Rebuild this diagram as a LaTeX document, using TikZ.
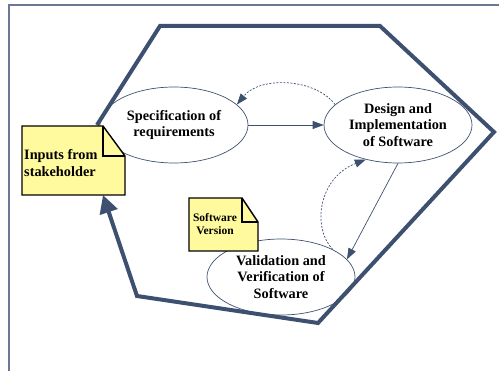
\documentclass[tikz,border=0pt]{standalone}
\usepackage{fontspec}
\setmainfont{Liberation Serif}
\usetikzlibrary{arrows.meta,shapes.geometric}
\definecolor{slate}{RGB}{62,80,112}
\definecolor{framecol}{RGB}{106,120,150}
\definecolor{notefill}{RGB}{255,250,158}
\tikzset{
  phase/.style={ellipse, draw=slate, line width=0.7pt, inner sep=0pt,
    minimum width=148pt, minimum height=76pt, align=center,
    font=\bfseries\fontsize{14.3}{16.5}\selectfont},
  flow/.style={draw=slate, line width=0.7pt, -{Triangle[length=11pt,width=8pt]}},
  backflow/.style={flow, dash pattern=on 2pt off 1.5pt},
  cycle line/.style={draw=slate, line width=4pt, line join=miter},
  note line/.style={draw=black, line width=1.4pt, line join=miter}
}
\begin{document}
\begin{tikzpicture}[x=1pt,y=-1pt]
\useasboundingbox (0,0) rectangle (499,371);
% outer frame (open to the right and bottom)
\draw[framecol, line width=1.5pt] (9,371) -- (9,5) -- (499,5);

% large process cycle
\coordinate (c0) at (97,125);
\coordinate (c1) at (160,26);
\coordinate (c2) at (380,26);
\coordinate (c3) at (494,132);
\coordinate (c4) at (318,323);
\coordinate (c5) at (137,296);
\coordinate (c6) at (103,195);
\draw[cycle line, -{Triangle[length=18pt,width=18pt]}]
  (c0) -- (c1) -- (c2) -- (c3) -- (c4) -- (c5) -- (c6);

% phases
\node[phase] (spec) at (174,125) {Specification of\\requirements};
\node[phase] (design) at (398,125) {Design and\\Implementation\\of Software};
\node[phase] (valid) at (281,277) {Validation and\\Verification of\\Software};

% connectors
\draw[flow] (spec.east) -- (design.west);
\draw[flow] (design.south) -- (valid.15);
\draw[backflow] (design.162) .. controls (315,78) and (260,76) .. (spec.18);
\draw[backflow] (valid.28) .. controls (312,228) and (318,178) .. (design.227);

% note: inputs from stakeholder
\fill[notefill] (22,126) -- (103,126) -- (125,156) -- (125,195) -- (22,195) -- cycle;
\draw[note line] (22,126) -- (103,126) -- (125,156) -- (125,195) -- (22,195) -- cycle;
\draw[note line] (103,126) -- (103,156) -- (125,156);
\node[anchor=west, align=left, inner sep=0pt,
  font=\bfseries\fontsize{14.3}{16.5}\selectfont] (inputs) at (24,163)
  {Inputs from\\stakeholder};

% note: software version
\fill[notefill] (189,198) -- (242,198) -- (258,222) -- (258,251) -- (189,251) -- cycle;
\draw[note line] (189,198) -- (242,198) -- (258,222) -- (258,251) -- (189,251) -- cycle;
\draw[note line] (242,198) -- (242,222) -- (258,222);
\node[align=center, inner sep=0pt,
  font=\bfseries\fontsize{11.5}{13.5}\selectfont] (version) at (215,224)
  {Software\\Version};
\end{tikzpicture}
\end{document}
